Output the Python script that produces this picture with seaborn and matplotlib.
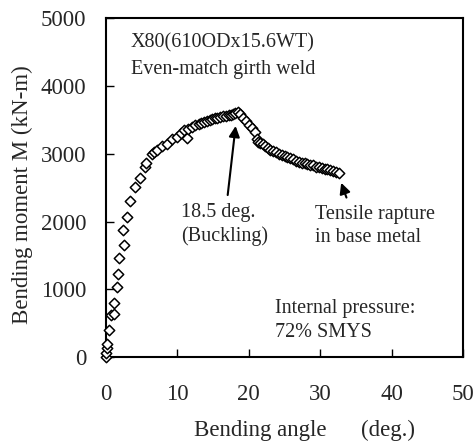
import pandas as pd
import matplotlib
matplotlib.use('Agg')
import matplotlib.pyplot as plt
import seaborn as sns

# bending angle (deg.) and moment (kN-m)
angle = [0.0, 0.05, 0.1, 0.2, 0.4, 0.7, 1.2, 1.2, 1.5, 1.7, 1.9, 2.5, 2.4, 3.0, 3.3,
         4.1, 4.7, 5.5, 5.6, 6.4, 6.7, 7.2, 7.9, 8.6, 9.3, 10.0, 10.5, 10.9, 11.4, 11.5,
         12.0, 12.5, 13.0, 13.3, 13.7, 14.1, 14.5, 14.9, 15.3, 15.6, 16.0, 16.4, 16.8,
         17.2, 17.5, 17.8, 18.1, 18.5, 18.8, 19.2, 19.6, 20.0, 20.4, 20.8, 21.1, 21.3,
         21.6, 22.0, 22.3, 22.7, 23.0, 23.4, 23.8, 24.2, 24.6, 25.0, 25.4, 25.8, 26.2,
         26.6, 27.0, 27.4, 27.8, 28.2, 28.6, 29.0, 29.4, 29.8, 30.2, 30.6, 31.0, 31.4,
         31.8, 32.2, 32.6]
moment = [0, 60, 130, 200, 400, 620, 800, 630, 1030, 1220, 1460, 1650, 1870, 2060, 2300,
          2510, 2640, 2800, 2870, 2990, 3030, 3050, 3110, 3150, 3210, 3250, 3300, 3350, 3230, 3370,
          3400, 3420, 3440, 3450, 3470, 3480, 3500, 3510, 3520, 3530, 3540, 3550, 3560,
          3570, 3575, 3590, 3600, 3610, 3580, 3530, 3480, 3430, 3380, 3320, 3220, 3180,
          3160, 3140, 3120, 3090, 3060, 3040, 3020, 3000, 2980, 2960, 2950, 2930, 2920,
          2900, 2880, 2870, 2860, 2850, 2840, 2830, 2810, 2800, 2790, 2780, 2770, 2760,
          2750, 2730, 2710]

df = pd.DataFrame({'angle': angle, 'moment': moment})

sns.set_style('ticks')
plt.rcParams['font.family'] = ['Liberation Serif', 'DejaVu Serif']

fig = plt.figure(figsize=(4.75, 4.42), dpi=100)
ax = fig.add_axes([0.223, 0.192, 0.752, 0.767])

sns.scatterplot(data=df, x='angle', y='moment', marker='D', s=28,
                facecolor='white', edgecolor='black', linewidth=1.1, ax=ax, zorder=3,
                clip_on=False)

ax.set_xlim(0, 50)
ax.set_ylim(0, 5000)
ax.set_xticks([0, 10, 20, 30, 40, 50])
ax.set_yticks([0, 1000, 2000, 3000, 4000, 5000])
ax.tick_params(direction='in', length=6, width=1, labelsize=16.5, color='black')
ax.tick_params(axis='x', pad=19)
ax.tick_params(axis='y', pad=14)
for sp in ax.spines.values():
    sp.set_linewidth(1.5)
    sp.set_color('black')

ax.set_xlabel('Bending angle      (deg.)', fontsize=16.5)
ax.xaxis.set_label_coords(0.557, -0.185)
ax.set_ylabel('Bending moment M (kN-m)', fontsize=16.5)
ax.yaxis.set_label_coords(-0.205, 0.48)

fs = 14.5
ax.text(3.5, 4630, 'X80(610ODx15.6WT)', fontsize=fs, va='center')
ax.text(3.5, 4235, 'Even-match girth weld', fontsize=fs, va='center')

ax.text(10.5, 2140, '18.5 deg.', fontsize=fs, va='center')
ax.text(10.5, 1785, '(Buckling)', fontsize=fs, va='center')
ax.annotate('', xy=(18.2, 3450), xytext=(17.0, 2350),
            arrowprops=dict(arrowstyle='-|>', color='black', lw=1.5, mutation_scale=16))

ax.text(29.3, 2100, 'Tensile rapture', fontsize=fs, va='center')
ax.text(29.3, 1765, 'in base metal', fontsize=fs, va='center')
ax.annotate('', xy=(32.8, 2610), xytext=(33.8, 2315),
            arrowprops=dict(arrowstyle='-|>', color='black', lw=1.5, mutation_scale=16))

ax.text(23.7, 720, 'Internal pressure:', fontsize=fs, va='center')
ax.text(23.7, 370, '72% SMYS', fontsize=fs, va='center')

plt.savefig('out.png', dpi=100)
